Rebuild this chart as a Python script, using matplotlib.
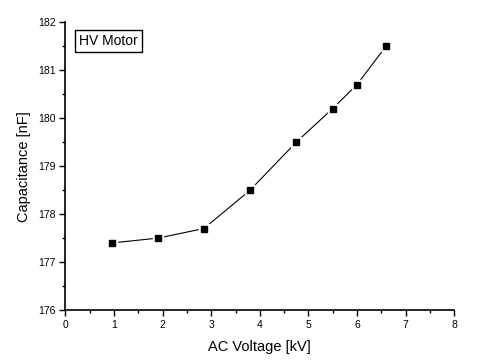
import matplotlib
matplotlib.use("Agg")
import matplotlib.pyplot as plt
from matplotlib.ticker import MultipleLocator

plt.rcParams['font.family'] = ['Liberation Sans', 'DejaVu Sans']

# AC voltage [kV] vs capacitance [nF] for the HV motor
voltage = [0.95, 1.9, 2.85, 3.8, 4.75, 5.5, 6.0, 6.6]
capacitance = [177.4, 177.5, 177.7, 178.5, 179.5, 180.2, 180.7, 181.5]

fig = plt.figure(figsize=(4.78, 3.64), dpi=100)
ax = fig.add_axes([0.137, 0.148, 0.813, 0.791])

ax.plot(voltage, capacitance, color="black", lw=0.8, zorder=2)
# white halo so the line stops just short of each marker
ax.plot(voltage, capacitance, ls="none", marker="s", ms=7.5,
        mfc="white", mec="white", zorder=3)
ax.plot(voltage, capacitance, ls="none", marker="s", ms=5.0,
        mfc="black", mec="black", zorder=4)

ax.set_xlim(0, 8)
ax.set_ylim(176, 182)
ax.xaxis.set_major_locator(MultipleLocator(1))
ax.xaxis.set_minor_locator(MultipleLocator(0.5))
ax.yaxis.set_major_locator(MultipleLocator(1))
ax.yaxis.set_minor_locator(MultipleLocator(0.5))

for side in ["top", "right"]:
    ax.spines[side].set_visible(False)
for side in ["left", "bottom"]:
    ax.spines[side].set_linewidth(1.2)

ax.tick_params(which="major", direction="out", length=4, width=1.0,
               labelsize=7.5, pad=3)
ax.tick_params(which="minor", direction="out", length=2.5, width=1.0)

ax.set_xlabel("AC Voltage [kV]", fontsize=10.5, labelpad=7)
ax.set_ylabel("Capacitance [nF]", fontsize=10.5, labelpad=5)

ax.text(0.035, 0.96, "HV Motor", transform=ax.transAxes, fontsize=10,
        va="top", ha="left",
        bbox=dict(boxstyle="square,pad=0.3", fc="white", ec="black", lw=1))

fig.savefig("out.png", dpi=100)
